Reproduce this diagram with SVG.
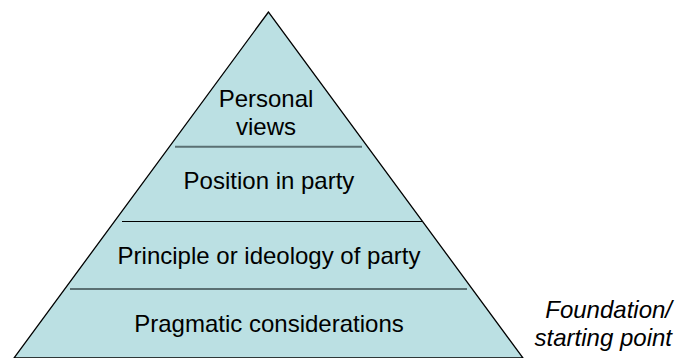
<svg xmlns="http://www.w3.org/2000/svg" width="679" height="358" viewBox="0 0 679 358">
<style>
.lbl{font-family:"Liberation Sans",Arial,sans-serif;font-size:24px;fill:#000;text-anchor:middle}
.side{font-family:"Liberation Sans",Arial,sans-serif;font-size:24px;font-style:italic;fill:#000;text-anchor:end}
.sep{stroke:#5a7073;stroke-width:2}
.sepb{stroke:#000;stroke-width:1.2}
</style>
<rect width="679" height="358" fill="#fff"/>
<g id="pyramid">
<polygon points="268.5,12 14,358 523,358" fill="#BBE0E3" stroke="#000" stroke-width="1.3"/>
</g>
<g id="connectors">
<line class="sep" x1="175" y1="146.7" x2="362" y2="146.7"/>
<line class="sepb" x1="122" y1="221.5" x2="422" y2="221.5"/>
<line class="sep" x1="70" y1="289" x2="467" y2="289"/>
</g>
<g id="personal-views">
<text class="lbl" x="266" y="107.3">Personal</text>
<text class="lbl" x="266" y="135">views</text>
</g>
<g id="position-in-party">
<text class="lbl" x="269" y="189">Position in party</text>
</g>
<g id="principle">
<text class="lbl" x="269" y="264">Principle or ideology of party</text>
</g>
<g id="pragmatic">
<text class="lbl" x="269" y="332">Pragmatic considerations</text>
</g>
<g id="foundation">
<text class="side" x="672" y="318">Foundation/</text>
<text class="side" x="672" y="346">starting point</text>
</g>
</svg>
